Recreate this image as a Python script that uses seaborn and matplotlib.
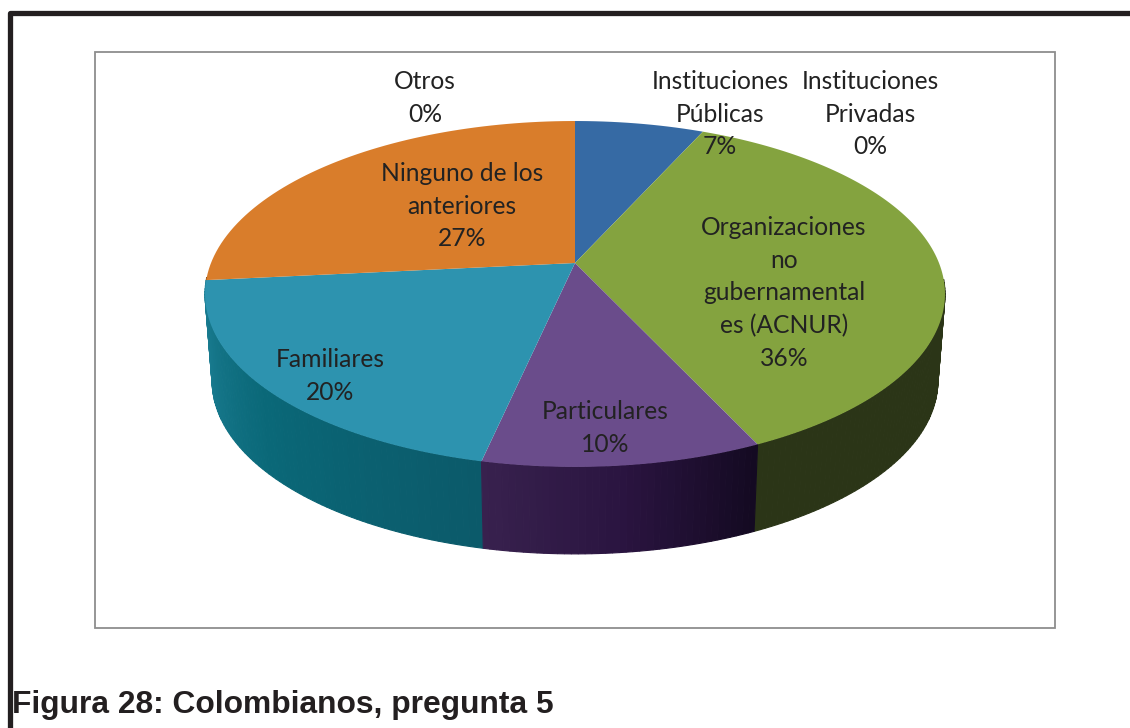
import numpy as np
import seaborn as sns
import matplotlib
matplotlib.use("Agg")
import matplotlib.pyplot as plt
from matplotlib.colors import LinearSegmentedColormap
from matplotlib.patches import Rectangle
from matplotlib.path import Path
from matplotlib.transforms import Affine2D, Transform

categorias = ["Instituciones\nPúblicas", "Instituciones\nPrivadas", "Organizaciones\nno\ngubernamental\nes (ACNUR)",
              "Particulares", "Familiares", "Ninguno de los\nanteriores", "Otros"]
valores = [6.7, 0, 36.4, 10.3, 20.0, 26.6, 0]
colores = ["#366AA4", "#BE4B48", "#84A33F", "#6A4C8B", "#2D93AF", "#D97D2B", "#4F81BD"]
# degradado del lado del cilindro, por sector (de izquierda a derecha)
lados = [["#1F3F63", "#1F3F63"], ["#6E2B29", "#6E2B29"], ["#2B3517", "#2B3517"],
         ["#38214E", "#2A1440", "#140A22"], ["#1E8197", "#0A6878", "#0B5A6A"],
         ["#7E4818", "#7E4818"], ["#2E4B6E", "#2E4B6E"]]
# centro de cada etiqueta en pixeles
pos_etiquetas = [(720, 114), (870, 114), (784, 293), (605, 428), (330, 376), (462, 206), (425, 98)]

sns.set_theme(style="white")
plt.rcParams["font.family"] = ["Lato", "DejaVu Sans"]

ANCHO, ALTO = 1130, 728
CX, CY = 575, 263
A, B, K = 364, 167.4, 0.179
ALTURA = 87
A_BASE = 357


def proyectar(u, v, a=A, dy=0):
    w = 1 + K * v
    return CX + a * u / w, CY + dy - B * v / w


class Perspectiva(Transform):
    input_dims = 2
    output_dims = 2

    def transform_non_affine(self, values):
        x, y = proyectar(values[:, 0], values[:, 1])
        return np.column_stack([x, y])

    def transform_path_non_affine(self, path):
        # aplanar las curvas antes de proyectar
        pol = path.transformed(Affine2D().scale(2000)).to_polygons(closed_only=False)[0] / 2000
        return Path(self.transform_non_affine(pol))


fig = plt.figure(figsize=(ANCHO / 100, ALTO / 100), dpi=100, facecolor="white")
ax = fig.add_axes([0, 0, 1, 1])

wedges, _ = ax.pie(valores, colors=colores, startangle=90, counterclock=False,
                   wedgeprops={"linewidth": 0})
ax.set_aspect("auto")
ax.set_xlim(0, ANCHO)
ax.set_ylim(ALTO, 0)
ax.axis("off")

tr = Perspectiva() + ax.transData
for w in wedges:
    w.set_transform(tr)
    w.set_zorder(5)

# lado del cilindro
acum = np.cumsum([0] + valores) / sum(valores) * 2 * np.pi
for i in range(len(valores)):
    if valores[i] == 0:
        continue
    cmap = LinearSegmentedColormap.from_list("lado", lados[i])
    n = max(int(valores[i] * 4), 2)
    t = np.linspace(acum[i], acum[i + 1], n + 1)
    for j in range(n):
        tt = t[j:j + 2]
        u, v = np.sin(tt), np.cos(tt)
        if v.min() > -0.1:
            continue
        x1, y1 = proyectar(u, v)
        x2, y2 = proyectar(u, v, A_BASE, ALTURA)
        c = cmap(1 - j / max(n - 1, 1))
        ax.fill([x1[0], x1[1], x2[1], x2[0]], [y1[0], y1[1], y2[1], y2[0]],
                color=c, lw=0.8, zorder=3 - v.mean() * 0.1)

# marcos
ax.add_patch(Rectangle((95, 51.5), 960, 576, fill=False, ec="#8E8E8E", lw=1.3, zorder=1))
ax.plot([10, 10, ANCHO], [ALTO, 12.5, 12.5], color="#231F20", lw=3.8, solid_joinstyle="round", zorder=1)

for cat, val, (px, py) in zip(categorias, valores, pos_etiquetas):
    ax.text(px, py, f"{cat}\n{val:.0f}%", ha="center", va="center", fontsize=17.7,
            color="#222222", linespacing=1.5, zorder=8)

ax.text(12, 713, "Figura 28: Colombianos, pregunta 5", fontsize=22.9, fontweight="bold",
        family=["Liberation Sans"], color="#231F20", ha="left", va="baseline", zorder=8)

fig.savefig("out.png", dpi=100)
